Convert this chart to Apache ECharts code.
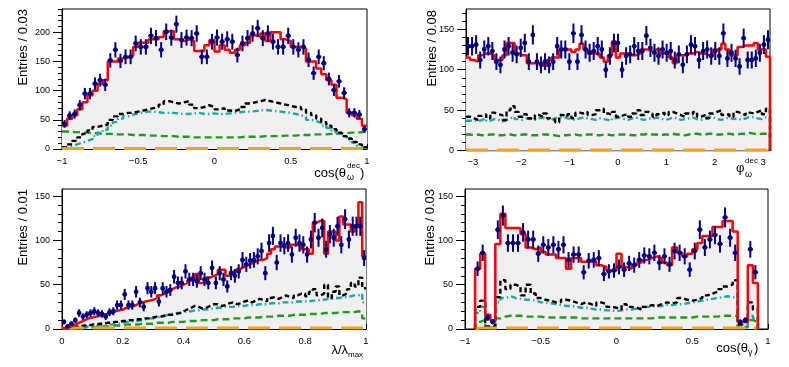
<!DOCTYPE html>
<html>
<head>
<meta charset="utf-8">
<script src="https://cdn.jsdelivr.net/npm/echarts@6/dist/echarts.min.js"></script>
<style>
html, body { margin: 0; padding: 0; background: #fff; }
#chart { width: 789px; height: 367px; }
</style>
</head>
<body>
<div id="chart"></div>
<script>
// panel 1 : cos(theta_omega^dec), 60 bins from -1 to 1
var p1XTicks = [-1, -0.5, 0, 0.5, 1];
var p1YTicks = [0, 50, 100, 150, 200];
var p1Data = [43,57,60,75,95,95,112,118,110,152, 170,151,158,158,181,175,175,194,190,170,
  201,191,214,187,191,190,198,158,158,184, 191,184,188,184,161,181,190,198,207,190,
  198,184,175,175,194,175,170,175,153,130, 158,147,120,101,116,96,62,62,59,34];
var p1Total = [40,52,58,68,80,92,100,112,118,150, 150,155,157,160,175,182,182,188,188,192,
  202,202,188,185,188,185,168,168,178,187, 167,178,170,165,170,178,182,195,193,198,
  185,200,200,188,185,175,175,172,150,150, 138,128,118,110,88,85,62,58,52,40];
var p1Black = [3,8,14,20,26,32,38,40,42,50, 56,60,62,62,64,66,68,70,72,76,
  82,80,78,80,82,76,70,72,75,72, 68,70,66,65,68,72,78,80,82,84,
  82,80,78,76,74,72,72,68,62,58, 52,46,40,34,28,22,18,12,8,3];
var p1Cyan = [2,5,8,11,14,17,22,28,33,40, 46,52,56,59,61,63,64,64,63,62,
  62,62,61,60,60,61,62,60,60,61, 60,60,61,62,63,64,64,65,66,67,
  66,65,64,63,62,60,58,55,50,48, 45,40,36,30,26,22,16,11,6,2];
var p1Green = [30,29,29,28,28,27,27,26,26,26, 25,25,25,24,24,24,23,23,23,22,
  22,22,21,21,21,20,20,20,20,20, 20,20,20,20,20,21,21,21,21,22,
  22,22,22,23,23,23,24,24,24,25, 25,25,26,26,27,27,28,28,29,30];
var p1Orange = [1,1,1,1,1,1,1,1,1,1, 1,1,1,1,1,1,1,1,1,1, 1,1,1,1,1,1,1,1,1,1,
  1,1,1,1,1,1,1,1,1,1, 1,1,1,1,1,1,1,1,1,1, 1,1,1,1,1,1,1,1,1,1];

// panel 2 : phi_omega^dec, 75 bins from -pi to pi
var p2XTicks = [-3, -2, -1, 0, 1, 2, 3];
var p2YTicks = [0, 50, 100, 150];
var p2Data = [129,129,131,112,125,129,123,110,106,125, 129,121,119,127,133,110,143,110,106,110,
  106,110,129,125,125,110,145,110,143,125, 121,123,129,125,100,117,133,133,100,117,
  119,129,123,123,142,127,121,117,125,121, 123,112,119,106,119,131,129,112,123,125,
  117,123,117,145,114,121,114,104,139,112, 112,114,121,131,137];
var p2Total = [115,112,110,118,120,120,118,112,112,118, 133,133,120,118,118,108,108,108,108,105,
  112,115,115,125,125,125,122,125,132,125, 120,120,120,115,110,118,135,115,120,120,
  118,118,120,125,125,123,125,125,120,120, 115,108,118,118,120,120,122,120,120,118,
  118,125,125,132,125,118,118,128,130,130, 130,133,125,125,116];
var p2Black = [42,40,38,43,45,40,47,45,44,38, 50,55,48,42,45,40,38,44,42,46,
  40,38,35,44,42,45,40,47,46,48, 44,45,50,52,46,44,48,42,44,45,
  42,46,50,44,48,46,42,45,47,44, 48,46,44,42,46,45,48,42,44,40,
  46,48,50,44,45,42,48,46,44,47, 46,48,50,45,52];
var p2Cyan = [37,38,36,38,40,37,39,38,36,38, 40,42,39,38,40,39,38,40,41,39,
  38,40,41,42,40,39,38,40,41,40, 39,38,40,39,38,37,40,41,39,38,
  40,41,39,38,40,39,41,40,38,39, 41,40,38,39,40,41,39,38,40,42,
  41,39,38,40,41,39,40,38,40,42, 41,40,39,41,40];
var p2Green = [20,19,20,19,19,20,20,19,19,20, 20,19,19,20,20,19,19,19,20,20,
  19,19,18,19,19,20,20,19,19,20, 20,19,19,20,20,19,19,20,20,20,
  19,19,20,20,21,20,20,19,20,20, 21,20,20,19,20,21,21,20,20,21,
  21,20,20,21,21,20,20,21,21,22, 21,20,21,21,22];
var p2Orange = [1,1,1,1,1,1,1,1,1,1, 1,1,1,1,1,1,1,1,1,1, 1,1,1,1,1,1,1,1,1,1,
  1,1,1,1,1,1,1,1,1,1, 1,1,1,1,1,1,1,1,1,1, 1,1,1,1,1,1,1,1,1,1,
  1,1,1,1,1,1,1,1,1,1, 1,1,1,1,1];

// panel 3 : lambda/lambda_max, 80 bins from 0 to 1
var p3XTicks = [0, 0.2, 0.4, 0.6, 0.8, 1];
var p3YTicks = [0, 50, 100, 150];
var p3Data = [8,3,6,10,18,14,16,18,20,18, 17,14,19,20,27,27,39,27,27,42,
  30,25,46,42,46,31,46,42,44,59, 52,52,65,56,56,54,63,56,52,69,
  52,63,56,48,63,60,65,78,73,77, 78,82,88,63,97,105,75,97,94,97,
  84,103,97,95,84,101,120,103,114,90, 107,103,116,95,124,101,116,116,116,80];
var p3Total = [1,2,4,6,8,10,12,13,14,15, 16,17,18,20,21,22,24,25,26,28,
  30,31,32,33,35,38,40,42,45,47, 48,50,52,55,58,62,52,52,58,60,
  62,67,67,60,62,65,68,70,72,74, 76,78,78,80,85,90,93,93,92,92,
  95,95,93,90,90,85,120,122,122,85, 110,110,100,127,118,118,110,115,143,82];
var p3Black = [0,1,2,3,3,4,4,5,5,6, 6,7,7,8,8,9,9,10,10,11,
  11,12,12,13,14,14,15,16,16,17, 18,20,22,24,26,25,23,24,26,28,
  28,26,27,29,30,28,29,31,32,30, 32,34,33,31,35,36,34,36,38,36,
  35,38,40,40,37,42,45,38,40,50, 35,42,48,38,40,45,52,48,58,46];
var p3Cyan = [0,0,1,1,2,2,3,3,3,4, 4,5,5,6,6,7,8,8,9,9,
  10,11,12,12,13,14,15,16,17,18, 18,19,20,20,21,21,22,22,23,23,
  24,24,25,25,25,26,26,26,27,27, 27,28,28,28,29,29,29,30,30,30,
  30,31,31,31,31,32,32,33,33,34, 34,35,35,36,36,37,38,38,40,30];
var p3Green = [0,0,1,1,1,2,2,2,2,3, 3,3,3,4,4,4,5,5,5,5,
  6,6,6,6,7,7,7,7,8,8, 8,8,9,9,9,9,10,10,10,10,
  11,11,11,11,12,12,12,12,13,13, 13,13,14,14,14,14,15,15,15,15,
  16,16,16,16,17,17,17,17,18,18, 18,18,19,19,19,19,19,20,19,12];
var p3Orange = [1,1,1,1,1,1,1,1,1,1, 1,1,1,1,1,1,1,1,1,1, 1,1,1,1,1,1,1,1,1,1,
  1,1,1,1,1,1,1,1,1,1, 1,1,1,1,1,1,1,1,1,1, 1,1,1,1,1,1,1,1,1,1,
  1,1,1,1,1,1,1,1,1,1, 1,1,1,1,1,1,1,1,1,1];

// panel 4 : cos(theta_gamma), 60 bins from -1 to 1
var p4XTicks = [-1, -0.5, 0, 0.5, 1];
var p4YTicks = [0, 50, 100, 150];
var p4Data = [0,0,68,86,13,8,112,128,97,97, 97,109,101,101,85,95,92,95,90,95,
  78,84,84,64,77,78,80,62,65,66, 70,67,74,72,78,83,82,86,75,82,
  73,88,86,82,67,88,112,92,101,106, 96,126,103,86,8,10,90,64,0,0];
var p4Total = [0,0,68,85,16,10,96,130,114,114, 114,107,92,90,92,87,84,84,80,80,
  68,80,80,76,76,76,72,70,66,66, 85,70,68,72,75,78,80,82,80,75,
  72,92,86,82,85,90,97,105,105,115, 115,122,122,110,8,8,72,52,0,0];
var p4Black = [0,0,25,32,3,3,36,55,45,50, 48,38,50,40,35,33,32,30,30,33,
  32,30,28,30,28,26,30,28,25,24, 22,28,25,24,22,25,27,26,28,30,
  29,30,35,33,32,33,35,38,40,42, 45,48,50,55,5,8,30,22,0,0];
var p4Cyan = [0,0,18,25,2,2,30,35,37,35, 34,33,33,32,30,30,29,28,27,26,
  26,25,24,24,23,22,22,21,21,20, 21,22,22,23,24,25,25,26,26,27,
  27,28,28,29,30,31,32,33,34,35, 36,37,36,35,2,3,15,12,0,0];
var p4Green = [0,0,8,10,1,1,12,14,15,15, 15,14,14,14,14,13,13,13,13,13,
  13,13,12,12,12,12,12,12,12,12, 12,12,12,12,12,12,12,13,13,13,
  13,13,13,13,13,14,14,14,14,14, 15,15,15,15,2,2,10,8,0,0];
var p4Orange = [0,0,1,1,1,1,1,1,1,1, 1,1,1,1,1,1,1,1,1,1, 1,1,1,1,1,1,1,1,1,1,
  1,1,1,1,1,1,1,1,1,1, 1,1,1,1,1,1,1,1,1,1, 1,1,1,1,1,1,1,1,0,0];

var FONT = '"Liberation Sans", Arial, Helvetica, sans-serif';
var NAVY = '#000080';

// step outline of a histogram (bin edges -> values)
function histPts(vals, lo, w, dropRight) {
  var a = 0, b = vals.length - 1;
  while (a < b && vals[a] === 0) a++;
  while (b > a && vals[b] === 0) b--;
  var pts = [];
  if (a > 0) pts.push([lo + a * w, 0]);
  for (var i = a; i <= b; i++) pts.push([lo + i * w, vals[i]]);
  pts.push([lo + (b + 1) * w, vals[b]]);
  if (dropRight || b < vals.length - 1) pts.push([lo + (b + 1) * w, 0]);
  return pts;
}

// data points at bin centres, empty bins skipped
function dataPts(vals, lo, w) {
  var out = [];
  vals.forEach(function (v, i) {
    if (v > 0) out.push([lo + (i + 0.5) * w, v, w / 2]);
  });
  return out;
}

function minorList(min, max, step, majors) {
  var out = [];
  var k0 = Math.ceil(min / step - 1e-9), k1 = Math.floor(max / step + 1e-9);
  for (var k = k0; k <= k1; k++) {
    var v = +(k * step).toFixed(6);
    var isMajor = majors.some(function (m) { return Math.abs(m - v) < 1e-6; });
    if (!isMajor) out.push(v);
  }
  return out;
}

function fmt(v) {
  return v < 0 ? '\u2212' + String(Math.abs(v)) : String(v);
}

function renderPoint(params, api) {
  var x = api.value(0), y = api.value(1), hw = api.value(2);
  var e = Math.sqrt(y);
  var c = api.coord([x, y]);
  var top = api.coord([x, y + e]);
  var bot = api.coord([x, Math.max(y - e, 0)]);
  var l = api.coord([x - hw, y]);
  var r = api.coord([x + hw, y]);
  var st = { stroke: NAVY, lineWidth: 2 };
  return {
    type: 'group',
    children: [
      { type: 'line', shape: { x1: c[0], y1: top[1], x2: c[0], y2: bot[1] }, style: st },
      { type: 'line', shape: { x1: l[0], y1: c[1], x2: r[0], y2: c[1] }, style: st },
      { type: 'circle', shape: { cx: c[0], cy: c[1], r: 2.4 }, style: { fill: NAVY } }
    ]
  };
}

var panels = [
  { grid: { left: 62, top: 9, width: 305, height: 140 }, xr: [-1, 1], nb: 60, ymax: 240,
    xt: p1XTicks, xm: 0.1, yt: p1YTicks, ym: 10, drop: false,
    data: p1Data, total: p1Total, black: p1Black, cyan: p1Cyan, green: p1Green, orange: p1Orange },
  { grid: { left: 466, top: 9, width: 304, height: 141.7 }, xr: [-Math.PI, Math.PI], nb: 75, ymax: 175,
    xt: p2XTicks, xm: 0.2, yt: p2YTicks, ym: 10, drop: true,
    data: p2Data, total: p2Total, black: p2Black, cyan: p2Cyan, green: p2Green, orange: p2Orange },
  { grid: { left: 62, top: 189, width: 304, height: 140 }, xr: [0, 1], nb: 80, ymax: 158,
    xt: p3XTicks, xm: 0.05, yt: p3YTicks, ym: 10, drop: false,
    data: p3Data, total: p3Total, black: p3Black, cyan: p3Cyan, green: p3Green, orange: p3Orange },
  { grid: { left: 465, top: 189, width: 303, height: 140 }, xr: [-1, 1], nb: 60, ymax: 158,
    xt: p4XTicks, xm: 0.1, yt: p4YTicks, ym: 10, drop: false,
    data: p4Data, total: p4Total, black: p4Black, cyan: p4Cyan, green: p4Green, orange: p4Orange }
];

var grids = [], xAxes = [], yAxes = [], series = [];

panels.forEach(function (p, gi) {
  grids.push(Object.assign({ show: true, borderColor: '#000', borderWidth: 1, backgroundColor: 'transparent' }, p.grid));
  var xi = xAxes.length, yi = yAxes.length;
  xAxes.push({
    type: 'value', gridIndex: gi, min: p.xr[0], max: p.xr[1], position: 'bottom',
    axisLine: { show: true, onZero: false, lineStyle: { color: '#000', width: 1 } },
    axisTick: { show: true, inside: true, length: 5, customValues: p.xt, lineStyle: { color: '#000' } },
    axisLabel: { customValues: p.xt, formatter: fmt, color: '#000', fontSize: 9.5, fontFamily: FONT, margin: 7 },
    splitLine: { show: false }
  });
  xAxes.push({
    type: 'value', gridIndex: gi, min: p.xr[0], max: p.xr[1], position: 'bottom',
    axisLine: { show: false, onZero: false },
    axisTick: { show: true, inside: true, length: 2.5, customValues: minorList(p.xr[0], p.xr[1], p.xm, p.xt), lineStyle: { color: '#000' } },
    axisLabel: { show: false }, splitLine: { show: false }
  });
  yAxes.push({
    type: 'value', gridIndex: gi, min: 0, max: p.ymax, position: 'left',
    axisLine: { show: true, onZero: false, lineStyle: { color: '#000', width: 1 } },
    axisTick: { show: true, length: 9, customValues: p.yt, lineStyle: { color: '#000' } },
    axisLabel: { customValues: p.yt, color: '#000', fontSize: 9, fontFamily: FONT, margin: 12 },
    splitLine: { show: false }
  });
  yAxes.push({
    type: 'value', gridIndex: gi, min: 0, max: p.ymax, position: 'left', offset: 0,
    axisLine: { show: false, onZero: false },
    axisTick: { show: true, length: 4, customValues: minorList(0, p.ymax, p.ym, p.yt), lineStyle: { color: '#000' } },
    axisLabel: { show: false }, splitLine: { show: false }
  });

  var lo = p.xr[0], w = (p.xr[1] - p.xr[0]) / p.nb;
  var base = { type: 'line', step: 'end', xAxisIndex: xi, yAxisIndex: yi, showSymbol: false, symbol: 'none', silent: true };

  series.push(Object.assign({}, base, {
    data: histPts(p.total, lo, w, p.drop), z: 1,
    lineStyle: { width: 0, opacity: 0 }, areaStyle: { color: '#f0f0f0', opacity: 1 }
  }));
  series.push(Object.assign({}, base, {
    data: histPts(p.green, lo, w, p.drop), z: 2,
    lineStyle: { color: '#1f9a1f', width: 2.4, type: [7, 4] }
  }));
  series.push(Object.assign({}, base, {
    data: histPts(p.cyan, lo, w, p.drop), z: 2,
    lineStyle: { color: '#20a5a5', width: 2.4, type: [6, 3, 1.5, 3] }
  }));
  series.push(Object.assign({}, base, {
    data: histPts(p.black, lo, w, p.drop), z: 2,
    lineStyle: { color: '#000', width: 2.4, type: [5, 3] }
  }));
  series.push(Object.assign({}, base, {
    data: histPts(p.orange, lo, w, p.drop), z: 2,
    lineStyle: { color: '#f7a11c', width: 3, type: [22, 9] }
  }));
  series.push(Object.assign({}, base, {
    data: histPts(p.total, lo, w, p.drop), z: 3,
    lineStyle: { color: '#ff0000', width: 2.5 }
  }));
  series.push({
    type: 'custom', xAxisIndex: xi, yAxisIndex: yi, z: 4, silent: true, clip: true,
    renderItem: renderPoint, encode: { x: 0, y: 1 },
    data: dataPts(p.data, lo, w)
  });
});

function txt(s, x, y, size, align, rot) {
  return {
    type: 'text', x: x, y: y, rotation: rot || 0, silent: true,
    style: { text: s, font: size + 'px ' + FONT, fill: '#000', textAlign: align, textVerticalAlign: 'middle' }
  };
}

var R = Math.PI / 2;
var graphics = [
  txt('Entries / 0.03', 23, 9, 13, 'right', R),
  txt('Entries / 0.08', 432, 10, 13, 'right', R),
  txt('Entries / 0.01', 23, 189, 13, 'right', R),
  txt('Entries / 0.03', 430, 189, 13, 'right', R),
  // cos(theta_omega^dec)
  txt('cos(\u03b8', 346, 173, 13, 'right'),
  txt('dec', 347, 166, 8, 'left'),
  txt('\u03c9', 347, 178, 9, 'left'),
  txt(')', 360, 173, 13, 'left'),
  // phi_omega^dec
  txt('\u03c6', 736, 168, 13, 'left'),
  txt('dec', 745, 161, 8, 'left'),
  txt('\u03c9', 745, 175, 9, 'left'),
  // lambda / lambda_max
  txt('\u03bb/\u03bb', 348, 350, 13, 'right'),
  txt('max', 348, 355, 8, 'left'),
  // cos(theta_gamma)
  txt('cos(\u03b8', 748, 348, 13, 'right'),
  txt('\u03b3', 748, 353, 9, 'left'),
  txt(')', 754, 348, 13, 'left')
];

var chart = echarts.init(document.getElementById('chart'));
chart.setOption({
  animation: false,
  backgroundColor: '#fff',
  grid: grids,
  xAxis: xAxes,
  yAxis: yAxes,
  series: series,
  graphic: graphics
});
</script>
</body>
</html>
